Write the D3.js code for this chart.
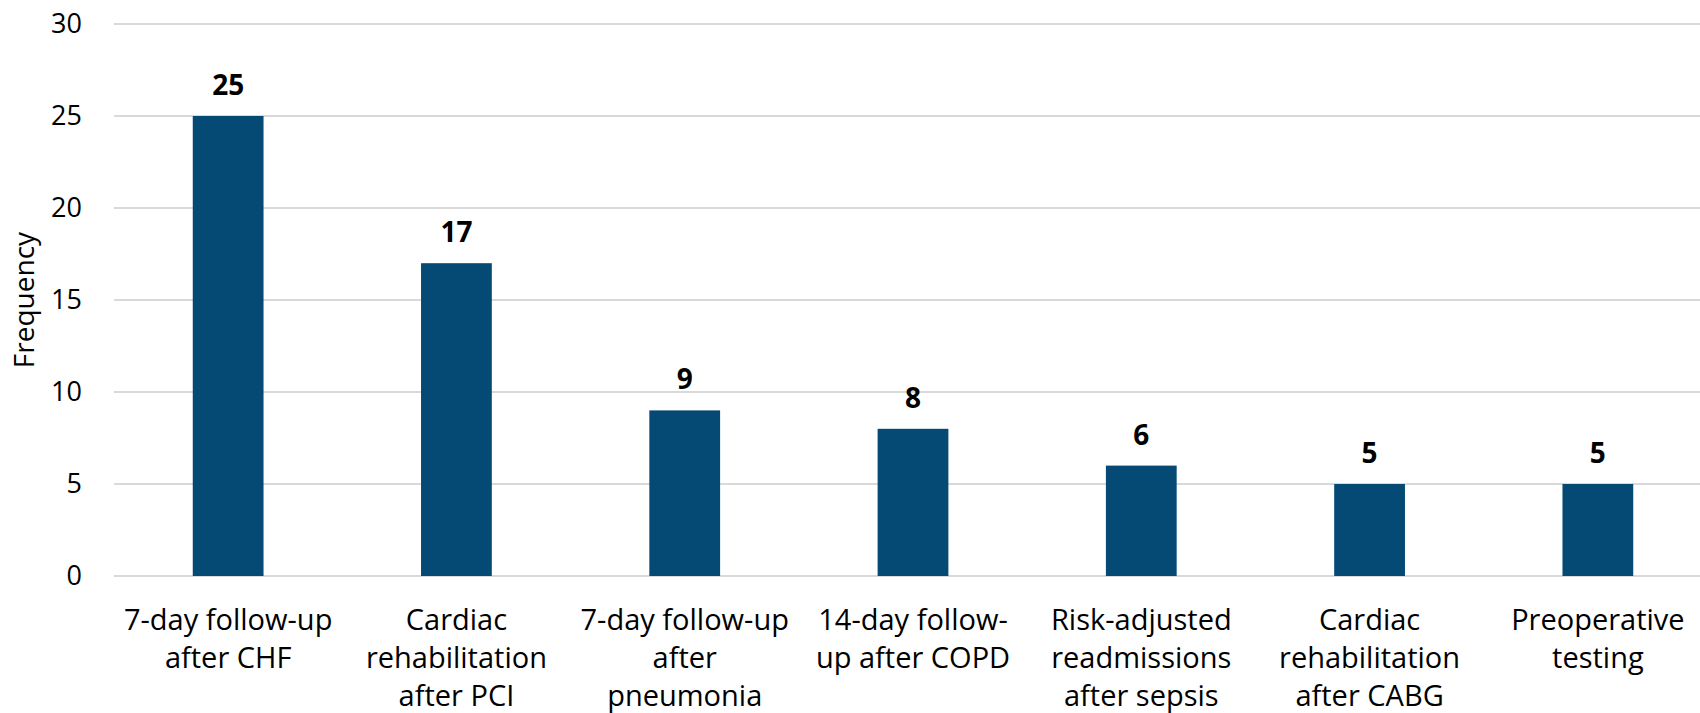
<!DOCTYPE html>
<html lang="en">
<meta charset="utf-8">
<head>
<script src="https://d3js.org/d3.v7.min.js"></script>
<style>
  body { margin: 0; background: #fff; }
  text { font-family: "Open Sans", "Noto Sans", sans-serif; }
</style>
</head>
<body>
<div id="my_dataviz"></div>
<script>

// categories (line breaks as in the original labels)
var categories = [
  "7-day follow-up\nafter CHF",
  "Cardiac\nrehabilitation\nafter PCI",
  "7-day follow-up\nafter\npneumonia",
  "14-day follow-\nup after COPD",
  "Risk-adjusted\nreadmissions\nafter sepsis",
  "Cardiac\nrehabilitation\nafter CABG",
  "Preoperative\ntesting"
];
var frequency = [25, 17, 9, 8, 6, 5, 5];
var yTicks = [0, 5, 10, 15, 20, 25, 30];

var width = 1700, height = 713;
var margin = {top: 24, right: 0, bottom: 137, left: 114};

var svg = d3.select("#my_dataviz")
  .append("svg")
  .attr("width", width)
  .attr("height", height);

// plot area runs a little past the right edge (cropped in the original)
var xScale = d3.scaleBand()
  .domain(d3.range(categories.length))
  .range([margin.left, 1712])
  .paddingInner(0.69)
  .paddingOuter(0.345);

var yScale = d3.scaleLinear()
  .domain([0, 30])
  .range([height - margin.bottom, margin.top]);

// gridlines
svg.append("g")
  .selectAll("line")
  .data(yTicks)
  .enter()
  .append("line")
    .attr("x1", margin.left)
    .attr("x2", width - margin.right)
    .attr("y1", d => yScale(d))
    .attr("y2", d => yScale(d))
    .style("stroke", "#d9d9d9")
    .style("stroke-width", 2);

// y axis labels
var yAxis = svg.append("g")
  .attr("transform", "translate(" + margin.left + ",0)")
  .call(d3.axisLeft(yScale).tickValues(yTicks).tickSize(0).tickPadding(32));
yAxis.select(".domain").remove();
yAxis.selectAll("text")
  .style("font-size", "27px")
  .style("fill", "#000");

// bars
svg.selectAll("rect.bar")
  .data(frequency)
  .enter()
  .append("rect")
    .attr("class", "bar")
    .attr("x", (d, i) => xScale(i))
    .attr("y", d => yScale(d))
    .attr("width", xScale.bandwidth())
    .attr("height", d => yScale(0) - yScale(d))
    .style("fill", "#044a74");

// value labels
svg.selectAll("text.val")
  .data(frequency)
  .enter()
  .append("text")
    .attr("class", "val")
    .attr("x", (d, i) => xScale(i) + xScale.bandwidth() / 2)
    .attr("y", d => yScale(d) - 21)
    .attr("text-anchor", "middle")
    .style("font-size", "28px")
    .style("font-weight", "bold")
    .style("fill", "#000")
    .text(d => d);

// category labels
var xAxis = svg.append("g")
  .attr("transform", "translate(0," + yScale(0) + ")")
  .call(d3.axisBottom(xScale).tickSize(0).tickFormat(""));
xAxis.select(".domain").remove();
xAxis.selectAll(".tick text").remove();
xAxis.selectAll(".tick")
  .append("text")
    .attr("text-anchor", "middle")
    .style("font-size", "29px")
    .style("fill", "#000")
    .each(function(d) {
      var lines = categories[d].split("\n");
      var t = d3.select(this);
      lines.forEach(function(l, j) {
        t.append("tspan")
          .attr("x", 0)
          .attr("y", 54 + j * 38)
          .text(l);
      });
    });

// y axis title
svg.append("text")
  .attr("transform", "translate(34," + yScale(15) + ") rotate(-90)")
  .attr("text-anchor", "middle")
  .style("font-size", "28px")
  .style("fill", "#000")
  .text("Frequency");

</script>
</body>
</html>
